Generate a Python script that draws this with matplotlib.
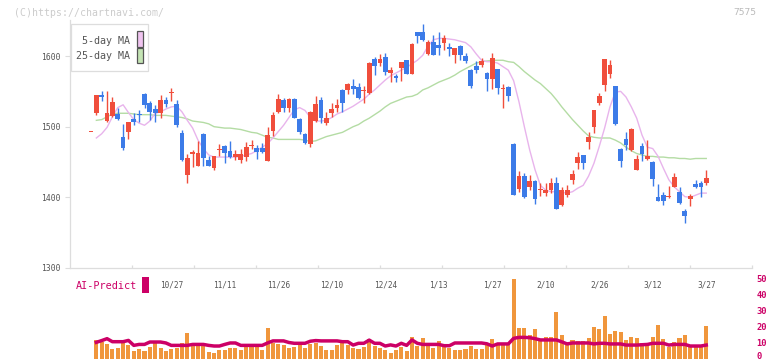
import matplotlib.pyplot as plt
import matplotlib.patches as patches
import matplotlib.transforms as mtransforms
import numpy as np

# 日足データ (始値, 高値, 安値, 終値)
opens = [1492, 1520, 1545, 1508, 1515, 1518, 1486, 1493, 1511, 1517,
         1546, 1534, 1525, 1520, 1538, 1547, 1532, 1491, 1431, 1462,
         1445, 1490, 1453, 1441, 1467, 1473, 1466, 1457, 1453, 1457,
         1473, 1470, 1470, 1452, 1494, 1521, 1538, 1526, 1539, 1511,
         1490, 1475, 1508, 1538, 1505, 1519, 1527, 1552, 1552, 1558,
         1556, 1550, 1548, 1596, 1590, 1598, 1576, 1572, 1583, 1594,
         1575, 1634, 1634, 1603, 1620, 1616, 1619, 1613, 1601, 1614,
         1600, 1580, 1586, 1587, 1576, 1567, 1582, 1553, 1556, 1475,
         1412, 1430, 1414, 1423, 1411, 1406, 1410, 1420, 1389, 1404,
         1424, 1449, 1460, 1479, 1499, 1534, 1559, 1574, 1558, 1469,
         1483, 1467, 1439, 1473, 1454, 1450, 1401, 1403, 1400, 1414,
         1407, 1381, 1397, 1419, 1420, 1420]
highs = [1492, 1545, 1551, 1550, 1542, 1527, 1504, 1507, 1519, 1524,
         1547, 1537, 1531, 1545, 1542, 1555, 1538, 1495, 1461, 1467,
         1480, 1491, 1458, 1459, 1476, 1474, 1480, 1467, 1469, 1478,
         1481, 1474, 1477, 1500, 1521, 1546, 1540, 1540, 1540, 1513,
         1491, 1522, 1543, 1542, 1521, 1533, 1539, 1553, 1562, 1568,
         1562, 1557, 1591, 1598, 1603, 1604, 1584, 1575, 1592, 1595,
         1619, 1634, 1645, 1623, 1630, 1634, 1630, 1619, 1611, 1616,
         1604, 1581, 1593, 1597, 1578, 1604, 1582, 1560, 1557, 1477,
         1437, 1434, 1431, 1424, 1420, 1420, 1427, 1429, 1415, 1417,
         1439, 1464, 1460, 1492, 1524, 1548, 1596, 1594, 1558, 1470,
         1492, 1498, 1460, 1477, 1481, 1452, 1419, 1407, 1416, 1434,
         1414, 1383, 1405, 1425, 1423, 1438]
lows = [1492, 1516, 1536, 1507, 1514, 1509, 1467, 1482, 1503, 1506,
        1527, 1510, 1507, 1513, 1528, 1537, 1500, 1452, 1420, 1443,
        1445, 1445, 1444, 1438, 1458, 1448, 1456, 1453, 1449, 1452,
        1468, 1454, 1463, 1451, 1487, 1520, 1521, 1521, 1512, 1489,
        1476, 1471, 1506, 1505, 1502, 1514, 1521, 1521, 1546, 1546,
        1539, 1534, 1546, 1573, 1586, 1573, 1563, 1563, 1564, 1574,
        1574, 1618, 1621, 1602, 1601, 1602, 1608, 1600, 1590, 1595,
        1590, 1555, 1576, 1584, 1551, 1554, 1546, 1527, 1537, 1403,
        1407, 1399, 1410, 1391, 1402, 1402, 1406, 1384, 1388, 1401,
        1419, 1440, 1440, 1469, 1491, 1530, 1551, 1569, 1503, 1443,
        1467, 1465, 1438, 1452, 1453, 1416, 1395, 1389, 1399, 1414,
        1391, 1364, 1388, 1413, 1400, 1417]
closes = [1492, 1545, 1542, 1520, 1535, 1511, 1470, 1507, 1507, 1516,
          1531, 1521, 1520, 1538, 1532, 1549, 1502, 1453, 1456, 1464,
          1463, 1455, 1445, 1458, 1468, 1463, 1457, 1462, 1462, 1471,
          1474, 1464, 1464, 1488, 1517, 1539, 1527, 1539, 1513, 1492,
          1477, 1521, 1532, 1512, 1513, 1525, 1530, 1534, 1561, 1554,
          1541, 1551, 1590, 1586, 1596, 1578, 1580, 1569, 1592, 1575,
          1617, 1629, 1622, 1620, 1602, 1612, 1625, 1610, 1611, 1602,
          1593, 1558, 1580, 1593, 1567, 1597, 1555, 1555, 1544, 1403,
          1430, 1400, 1423, 1397, 1412, 1410, 1420, 1384, 1411, 1411,
          1433, 1457, 1449, 1485, 1524, 1543, 1596, 1588, 1504, 1452,
          1474, 1497, 1454, 1461, 1458, 1426, 1395, 1395, 1401, 1429,
          1392, 1373, 1402, 1414, 1414, 1428]

# 移動平均線 (5日, 25日)
ma5 = [np.nan, 1484, 1490, 1499, 1514, 1527, 1531, 1520, 1510, 1505,
       1502, 1508, 1519, 1521, 1525, 1528, 1529, 1521, 1509, 1498,
       1481, 1469, 1460, 1457, 1457, 1457, 1457, 1457, 1458, 1460,
       1462, 1466, 1471, 1476, 1484, 1493, 1502, 1513, 1524, 1527,
       1523, 1513, 1508, 1508, 1509, 1513, 1518, 1521, 1525, 1529,
       1534, 1539, 1546, 1552, 1559, 1566, 1572, 1576, 1580, 1584,
       1589, 1594, 1601, 1614, 1623, 1625, 1625, 1624, 1623, 1621,
       1619, 1613, 1603, 1594, 1592, 1592, 1590, 1585, 1580, 1565,
       1535, 1500, 1467, 1439, 1417, 1410, 1408, 1408, 1407, 1406,
       1408, 1413, 1417, 1430, 1448, 1472, 1498, 1528, 1549, 1550,
       1542, 1528, 1512, 1488, 1471, 1469, 1458, 1441, 1425, 1415,
       1408, 1401, 1400, 1403, 1406, 1406]
ma25 = [np.nan, 1509, 1510, 1514, 1518, 1519, 1519, 1519, 1518, 1517,
        1517, 1517, 1516, 1516, 1516, 1515, 1514, 1513, 1511, 1508,
        1507, 1506, 1504, 1500, 1499, 1498, 1498, 1497, 1496, 1494,
        1492, 1491, 1488, 1485, 1484, 1482, 1482, 1482, 1482, 1482,
        1481, 1479, 1480, 1483, 1486, 1488, 1490, 1492, 1496, 1500,
        1503, 1508, 1512, 1517, 1522, 1528, 1533, 1536, 1539, 1542,
        1543, 1546, 1552, 1555, 1559, 1563, 1566, 1569, 1573, 1578,
        1582, 1586, 1590, 1592, 1593, 1594, 1594, 1594, 1592, 1591,
        1585, 1578, 1572, 1566, 1561, 1554, 1547, 1538, 1528, 1519,
        1510, 1502, 1494, 1487, 1485, 1484, 1484, 1484, 1481, 1477,
        1471, 1466, 1462, 1460, 1458, 1458, 1457, 1457, 1456, 1456,
        1455, 1455, 1454, 1455, 1455, 1455]

# 出来高 と AI-Predict
volume = [np.nan, 11.6, 10.5, 9, 6, 6.6, 9.5, 8.4, 4.9, 5.7,
          4.9, 7, 9.5, 6.6, 4.9, 6, 6.6, 9.5, 16, 9.5,
          9.5, 9.5, 4, 3.2, 5.3, 5.3, 6.6, 6.6, 5.3, 7,
          7.5, 8, 5.3, 19, 9.5, 9, 8.4, 6.6, 7.5, 8.4,
          6.6, 9, 9.5, 8, 5.3, 5.3, 8.4, 9.5, 8.4, 6.6,
          6.2, 7, 12, 8, 6.5, 5.5, 3.3, 5.3, 7, 4.9,
          13.2, 7.8, 12.8, 8.4, 6.6, 11, 8.4, 6.6, 5.3, 5.3,
          6, 7.8, 6, 6, 9, 12.2, 9.5, 9.5, 9.5, 49.7,
          19.1, 19.1, 14.7, 18.5, 11.6, 13.6, 13.6, 29.1, 14.7, 10.5,
          11.6, 11.1, 11, 12.6, 19.5, 18.5, 26.6, 15.3, 17.3, 16.8,
          11.6, 13.6, 12.6, 9.5, 9.5, 13.6, 21, 12.2, 7.4, 10.5,
          13, 14.5, 7.8, 7.4, 7.8, 20.3]
ai_predict = [np.nan, 10.1, 11.2, 12.4, 10.5, 10.5, 10.5, 11.3, 8.2, 8.8,
              8.8, 10.3, 10.3, 10.3, 9.7, 8.2, 8.2, 8.2, 8.2, 8.8,
              8.8, 8.8, 8.2, 7.8, 7.8, 8.8, 9.7, 9.7, 8.2, 8.2,
              8.2, 8.2, 8.2, 9.7, 11, 11, 11, 10, 9.5, 9.5,
              9.5, 10.8, 11.2, 11, 11, 11, 11, 10.5, 10.5, 8.4,
              9.5, 9.5, 11.5, 9.5, 9.5, 7.8, 8.5, 7.8, 9.5, 8.2,
              11.6, 9.5, 8.8, 8.8, 8.8, 8.8, 8, 8, 9.7, 9.7,
              9.7, 9.7, 9.7, 9.7, 9.2, 7.8, 9.1, 9.1, 9.1, 12.6,
              13.2, 13.2, 13, 12.4, 11.6, 11.6, 11.6, 11.6, 10.4, 9.1,
              9.7, 9.7, 9.7, 9.7, 9.1, 9.5, 9.5, 9.1, 9.1, 9.1,
              8.4, 8.4, 8.4, 8.6, 8.8, 9.5, 9.5, 9.5, 8.4, 8.8,
              8.8, 8.8, 7.8, 7.8, 7.8, 8.4]

# 日付ラベル (ローソク足の番号)
date_pos = [15, 25, 35, 45, 55, 65, 75, 85, 95, 105, 115]
date_labels = ['10/27', '11/11', '11/26', '12/10', '12/24', '1/13',
               '1/27', '2/10', '2/26', '3/12', '3/27']
price_ticks = [1300, 1400, 1500, 1600]
ai_ticks = [0, 10, 20, 30, 40, 50]

W, H = 772, 361
RED = '#f04e3c'
BLUE = '#3c7be8'
GRID = '#dddddd'
MONO = 'DejaVu Sans Mono'


def fx(x):
    return x / W


def fy(y):
    return 1 - y / H


idx = np.arange(len(closes))
o = np.array(opens, dtype=float)
c = np.array(closes, dtype=float)
colors = [RED if cc >= oo else BLUE for oo, cc in zip(o, c)]

fig = plt.figure(figsize=(W / 100, H / 100), dpi=100)
fig.patch.set_facecolor('white')

xlim = ((70 - 91) / 5.35, (752 - 91) / 5.35)

# ローソク足チャート
ax = fig.add_axes([fx(70), fy(268), fx(682), (268 - 20) / H])
ax.plot(idx, ma25, color='#b4dca4', lw=1.0, zorder=1)
ax.plot(idx, ma5, color='#e8b4ec', lw=1.0, zorder=1)
ax.vlines(idx, lows, highs, colors=colors, lw=1.0, zorder=2)
body = np.maximum(np.abs(c - o), 1.5)
ax.bar(idx, body, bottom=np.minimum(o, c), width=0.88, color=colors,
       linewidth=0, zorder=3)

ax.set_xlim(*xlim)
ax.set_ylim(1300, 1651)
for s in ['top', 'right']:
    ax.spines[s].set_visible(False)
for s in ['left', 'bottom']:
    ax.spines[s].set_color(GRID)
    ax.spines[s].set_linewidth(0.9)

ax.set_yticks(price_ticks)
ax.set_yticklabels([str(t) for t in price_ticks], family=MONO, fontsize=5.8,
                   color='#555555')
ax.tick_params(axis='y', length=3.6, color=GRID, pad=3.5)

ax.set_xticks(date_pos)
ax.set_xticklabels(date_labels, family=MONO, fontsize=5.6, color='#555555')
ax.tick_params(axis='x', which='major', length=0, pad=9)
ax.set_xticks([xlim[0] + k * (xlim[1] - xlim[0]) / 11 for k in range(1, 12)],
              minor=True)
ax.tick_params(axis='x', which='minor', direction='in', length=2.4,
               color=GRID, width=0.9)

# 出来高 と AI-Predict
ax2 = fig.add_axes([fx(70), fy(358.5), fx(682), 83.2 / H])
ax2.bar(idx, volume, width=0.75, color='#f0963c', linewidth=0)
ax2.plot(idx, ai_predict, color='#cc0066', lw=2.5)
ax2.set_xlim(*xlim)
ax2.set_ylim(0, 52)
ax2.patch.set_alpha(0)
for s in ax2.spines.values():
    s.set_visible(False)
ax2.set_xticks([])
ax2.yaxis.tick_right()
ax2.set_yticks(ai_ticks)
ax2.set_yticklabels([str(t) for t in ai_ticks], family=MONO, fontsize=6.3,
                    color='#cc0066', fontweight='bold')
ax2.tick_params(axis='y', length=0, pad=3)
# 一番下の "0" が切れないよう少し上へ
lab0 = ax2.get_yticklabels()[0]
lab0.set_transform(lab0.get_transform() +
                   mtransforms.ScaledTranslation(0, 2.2 / 72, fig.dpi_scale_trans))

fig.text(fx(76), fy(286), 'AI-Predict', family=MONO, fontsize=7.3,
         color='#cc0066', va='center', ha='left')
fig.add_artist(patches.Rectangle((fx(142), fy(293)), 7 / W, 16 / H,
                                 transform=fig.transFigure,
                                 facecolor='#cc0066', edgecolor='none'))

# 凡例
fig.add_artist(patches.Rectangle((fx(70.5), fy(71)), 77.5 / W, 46.7 / H,
                                 transform=fig.transFigure, facecolor='white',
                                 edgecolor=GRID, lw=0.9, zorder=5))
fig.text(fx(130), fy(40.5), '5-day MA', family=MONO, fontsize=7.2,
         color='#555555', ha='right', va='center', zorder=6)
fig.text(fx(130), fy(56.3), '25-day MA', family=MONO, fontsize=7.2,
         color='#555555', ha='right', va='center', zorder=6)
fig.add_artist(patches.Rectangle((fx(136.5), fy(47)), 6 / W, 15.5 / H,
                                 transform=fig.transFigure, facecolor='#f0c4f0',
                                 edgecolor='#555555', lw=0.9, zorder=6))
fig.add_artist(patches.Rectangle((fx(136.5), fy(63.3)), 6 / W, 15 / H,
                                 transform=fig.transFigure, facecolor='#c4e4b4',
                                 edgecolor='#555555', lw=0.9, zorder=6))

fig.text(fx(14), fy(12.5), '(C)https://chartnavi.com/', family=MONO,
         fontsize=7.15, color='#cccccc', va='center', ha='left')
fig.text(fx(756), fy(12.5), '7575', family=MONO, fontsize=6.8,
         color='#bbbbbb', va='center', ha='right')

fig.savefig('out.png', dpi=100)
